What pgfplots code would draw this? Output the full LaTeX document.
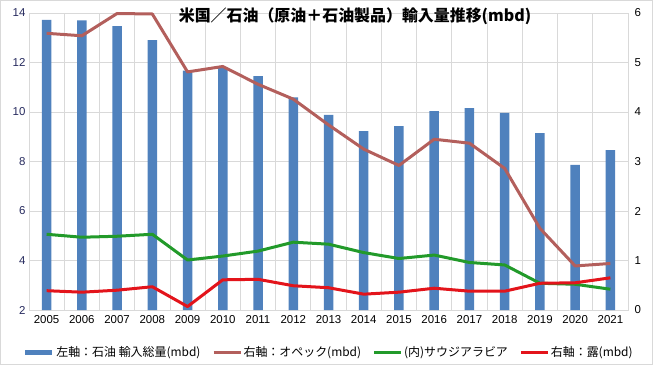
\documentclass[border=0pt]{standalone}
\usepackage{pgfplots}
\pgfplotsset{compat=1.18}
\usepackage{fontspec}
\setmainfont{Liberation Sans}
\newfontfamily\cjk{Noto Sans CJK JP}
\definecolor{barblue}{HTML}{4F81BD}
\definecolor{opec}{HTML}{B35F5C}
\definecolor{saudi}{HTML}{229A2A}
\definecolor{russia}{HTML}{E3141B}
\definecolor{gridgray}{HTML}{D9D9D9}
\definecolor{navy}{HTML}{262A5E}
\begin{document}
\begin{tikzpicture}[x=1bp,y=1bp]
\path[use as bounding box] (0,0) rectangle (653,365);
\draw[gridgray] (0.5,0.5) rectangle (652.5,364.5);
\begin{axis}[at={(29bp,55bp)}, anchor=south west, scale only axis,
  width=599bp, height=297bp,
  xmin=-0.5, xmax=16.5, ymin=2, ymax=14,
  xtick={0,...,16},
  xticklabels={2005,2006,2007,2008,2009,2010,2011,2012,2013,2014,2015,2016,2017,2018,2019,2020,2021},
  ytick={2,4,...,14},
  minor xtick={-0.5,0.5,...,16.5},
  ymajorgrids, xminorgrids,
  major grid style={gridgray, line width=0.8bp},
  minor grid style={gridgray, line width=0.8bp},
  axis line style={gridgray, line width=0.8bp},
  major tick length=0pt, minor tick length=0pt,
  /pgf/number format/assume math mode=true,
  ticklabel style={font=\fontsize{11.5}{13}\selectfont},
  yticklabel style={text=navy},
  xticklabel style={text=black, yshift=-2bp},
  ]
\addplot[ybar, bar width=9.5bp, fill=barblue, draw=none, bar shift=0pt] coordinates {
(0,13.72) (1,13.70) (2,13.47) (3,12.90) (4,11.67) (5,11.79) (6,11.45) (7,10.59) (8,9.88)
(9,9.23) (10,9.43) (11,10.04) (12,10.16) (13,9.96) (14,9.15) (15,7.86) (16,8.46)};
\end{axis}
\begin{axis}[at={(29bp,55bp)}, anchor=south west, scale only axis,
  width=599bp, height=297bp,
  xmin=-0.5, xmax=16.5, ymin=0, ymax=6,
  axis y line*=right, axis x line=none,
  clip=false,
  ytick={0,1,...,6},
  axis line style={gridgray, line width=0.8bp},
  major tick length=0pt,
  /pgf/number format/assume math mode=true,
  ticklabel style={font=\fontsize{11.5}{13}\selectfont},
  yticklabel style={xshift=3bp},
  legend columns=-1,
  legend style={at={(0.5,-0.1414)}, anchor=center, draw=none, fill=none,
    font=\cjk\fontsize{12}{14}\selectfont,
    /tikz/every even column/.append style={column sep=10bp},
    nodes={inner sep=1.5bp}},
  legend image code/.code={\draw[#1] (0bp,0bp) -- (27bp,0bp);},
  ]
\addlegendimage{legend image code/.code={\draw[barblue, line width=5bp] (0bp,0bp) -- (27bp,0bp);}}
\addlegendentry{左軸：石油 輸入総量(mbd)}
\addplot[opec, line width=3bp, mark=none, line join=round] coordinates {
(0,5.59) (1,5.54) (2,5.99) (3,5.98) (4,4.81) (5,4.92) (6,4.56) (7,4.26) (8,3.74)
(9,3.25) (10,2.92) (11,3.45) (12,3.37) (13,2.86) (14,1.65) (15,0.89) (16,0.94)};
\addlegendentry{右軸：オペック(mbd)}
\addplot[saudi, line width=3bp, mark=none, line join=round] coordinates {
(0,1.53) (1,1.47) (2,1.49) (3,1.53) (4,1.01) (5,1.09) (6,1.19) (7,1.37) (8,1.33)
(9,1.16) (10,1.04) (11,1.11) (12,0.96) (13,0.91) (14,0.54) (15,0.52) (16,0.42)};
\addlegendentry{(内)サウジアラビア}
\addplot[russia, line width=3bp, mark=none, line join=round] coordinates {
(0,0.39) (1,0.36) (2,0.40) (3,0.47) (4,0.07) (5,0.61) (6,0.62) (7,0.49) (8,0.45)
(9,0.32) (10,0.36) (11,0.44) (12,0.38) (13,0.38) (14,0.54) (15,0.55) (16,0.65)};
\addlegendentry{右軸：露(mbd)}
\end{axis}
\node[font=\cjk\bfseries\fontsize{16}{18}\selectfont, text=black] at (355,349) {米国／石油（原油＋石油製品）輸入量推移(mbd)};
\end{tikzpicture}
\end{document}
